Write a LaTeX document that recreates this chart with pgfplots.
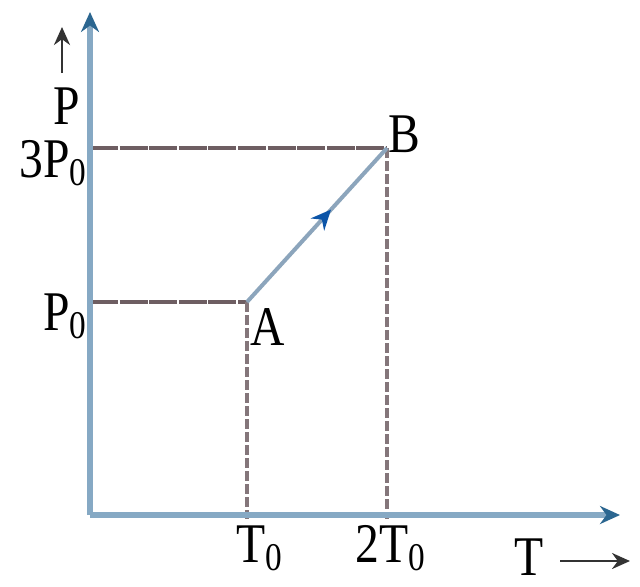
\documentclass[border=0pt]{standalone}
\usepackage{fontspec}
\setmainfont{Liberation Serif}
\newfontfamily\lab[FakeStretch=0.85]{Liberation Serif}
\usepackage{pgfplots}
\pgfplotsset{compat=1.18}
\usetikzlibrary{arrows.meta,decorations.markings}
\definecolor{axblue}{HTML}{86A9C4}
\definecolor{axhead}{HTML}{2B6690}
\definecolor{guidegray}{HTML}{6E5E62}
\definecolor{abline}{HTML}{8CA5BC}
\definecolor{abarrow}{HTML}{0C55A8}
\begin{document}
\begin{tikzpicture}
\begin{axis}[x=0.5pt,y=0.5pt,xmin=-90,xmax=550,ymin=-71,ymax=515,
  hide axis,clip=false,scale only axis]
\addplot[draw=none,forget plot] coordinates {(-90,-71) (550,515)};
% guide lines
\addplot[guidegray,line width=1.7pt,dash pattern=on 14pt off 0.8pt] coordinates {(0,367) (297,367)};
\addplot[guidegray,line width=1.7pt,dash pattern=on 14pt off 0.8pt] coordinates {(0,213) (157,213)};
\addplot[guidegray!85,line width=1.7pt,dash pattern=on 5pt off 1.5pt] coordinates {(157,213) (157,-4)};
\addplot[guidegray!85,line width=1.7pt,dash pattern=on 5pt off 1.5pt] coordinates {(297,367) (297,-4)};
% axes
\addplot[axblue,line width=2.6pt,-{Stealth[length=10pt,width=9pt,color=axhead]}] coordinates {(0,0) (0,503)};
\addplot[axblue,line width=2.6pt,-{Stealth[length=10pt,width=9pt,color=axhead]}] coordinates {(0,0) (530,0)};
% process A -> B
\addplot[abline,line width=2pt,postaction={decorate},
  decoration={markings,mark=at position 0.6 with {\arrow{Stealth[length=10pt,width=9pt,color=abarrow]}}}]
  coordinates {(157,213) (297,367)};
% labels
\node[font=\lab\fontsize{28}{30}\selectfont] at (axis cs:-23,409) {P};
\draw[black!80,line width=1.4pt,-{Stealth[length=9pt,width=8pt]}] (axis cs:-28,442) -- (axis cs:-28,488);
\node[font=\lab\fontsize{28}{30}\selectfont,anchor=base east,inner sep=0pt] at (axis cs:-2,338) {3P\textsubscript{0}};
\node[font=\lab\fontsize{28}{30}\selectfont,anchor=base east,inner sep=0pt] at (axis cs:-2,185) {P\textsubscript{0}};
\node[font=\lab\fontsize{28}{30}\selectfont,anchor=base west,inner sep=0pt] at (axis cs:160,170) {A};
\node[font=\lab\fontsize{28}{30}\selectfont,anchor=base west,inner sep=0pt] at (axis cs:298,363) {B};
\node[font=\lab\fontsize{28}{30}\selectfont,anchor=base west,inner sep=0pt] at (axis cs:146,-47) {T\textsubscript{0}};
\node[font=\lab\fontsize{28}{30}\selectfont,anchor=base west,inner sep=0pt] at (axis cs:265,-47) {2T\textsubscript{0}};
\node[font=\lab\fontsize{28}{30}\selectfont,anchor=base west,inner sep=0pt] at (axis cs:424,-60) {T};
\draw[black!80,line width=1.4pt,-{Stealth[length=9pt,width=8pt]}] (axis cs:470,-46) -- (axis cs:540,-46);
\end{axis}
\end{tikzpicture}
\end{document}
